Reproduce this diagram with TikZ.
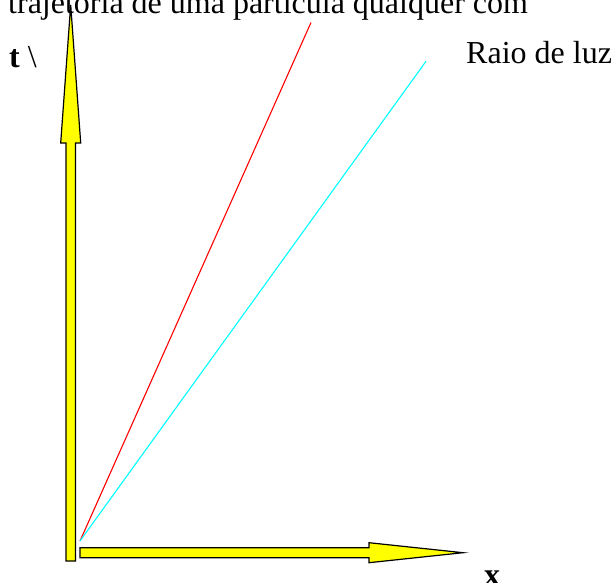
\documentclass[tikz,border=0pt]{standalone}
\usepackage{fontspec}
\setmainfont{Liberation Serif}
\usetikzlibrary{positioning}
\definecolor{eixo}{RGB}{255,255,0}
\definecolor{luz}{RGB}{0,255,255}
\definecolor{particula}{RGB}{255,0,0}

\begin{document}
\begin{tikzpicture}[x=1pt, y=-1pt,
  axisarrow/.style={draw=black, line width=1.2pt, fill=eixo, line join=miter},
  lbl/.style={inner sep=0pt, anchor=base west, font=\fontsize{32}{38}\selectfont}]
\useasboundingbox (0,0) rectangle (614,582);
\clip (0,0) rectangle (614,582);
% eixos
\draw[axisarrow] (66,561) -- (66,143) -- (60.7,143) -- (70.7,5) -- (80.7,143) -- (75.5,143) -- (75.5,561) -- cycle;
\draw[axisarrow] (80,547.7) -- (369,547.7) -- (369,542.7) -- (463,552.7) -- (369,562.7) -- (369,557.7) -- (80,557.7) -- cycle;
% trajetorias
\coordinate (origem) at (80,541);
\coordinate (fimp) at (311,22.5);
\coordinate (fiml) at (426,61.3);
\draw[particula, line width=1.1pt] (origem) -- (fimp);
\draw[luz, line width=1.1pt] (origem) -- (fiml);
% textos
\node[lbl] (titulo) at (8,13) {trajetória de uma partícula qualquer com};
\node[lbl] (eixot) at (9,67) {\textbf{t} \textbackslash};
\node[lbl] (raio) at (466,63.3) {Raio de luz};
\node[lbl] (eixox) at (484,585) {\textbf{x}};
\end{tikzpicture}
\end{document}
